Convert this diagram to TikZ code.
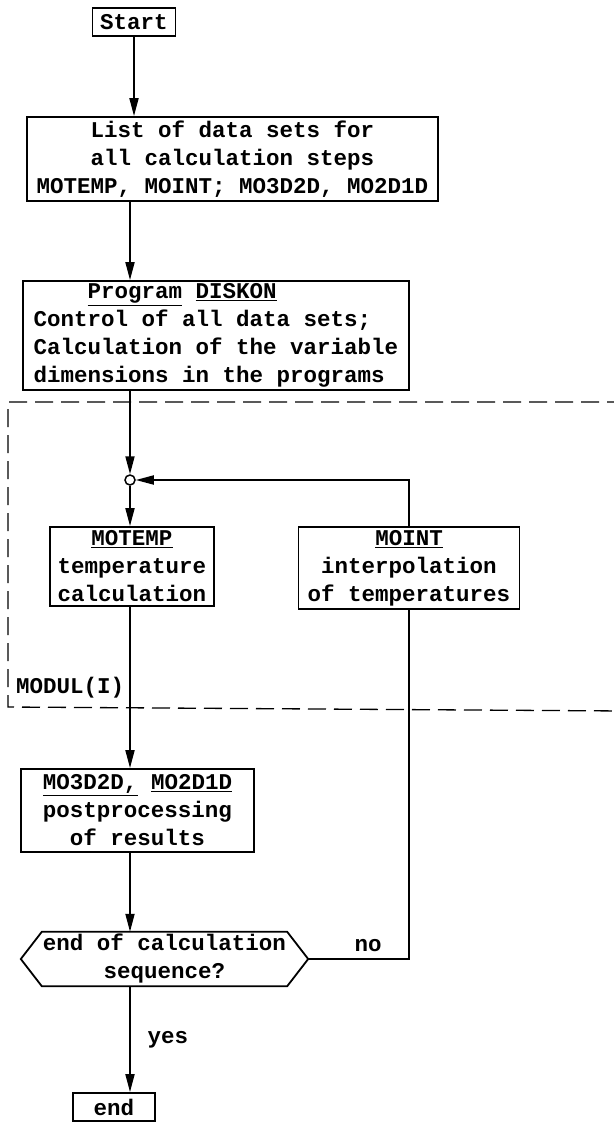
\documentclass[tikz,border=0pt]{standalone}
\usepackage{fontspec}
\newfontfamily\tw{Liberation Mono}[WordSpace={1,0,0}]
\usetikzlibrary{arrows.meta,calc}
\begin{document}
\begin{tikzpicture}[x=1pt,y=-1pt,
  box/.style={draw, line width=1.8pt, inner sep=0pt, align=center, font=\tw\bfseries\fontsize{22.5}{28}\selectfont},
  lbl/.style={font=\tw\bfseries\fontsize{22.5}{28}\selectfont, inner sep=0pt},
  arr/.style={line width=1.8pt, -{Triangle[length=18pt,width=9pt]}},
  ln/.style={line width=1.8pt}]
\useasboundingbox (0,0) rectangle (613,1123);
\fill[white] (0,0) rectangle (613,1123);

\node[box, minimum width=83pt, minimum height=28pt] (start) at (134,22) {Start};
\node[box, minimum width=411pt, minimum height=84pt] (list) at (232.5,159) {List of data sets for\\all calculation steps\\MOTEMP, MOINT; MO3D2D, MO2D1D};
\node[box, minimum width=386pt, minimum height=109pt, align=left] (prog) at (216,335.5) {\hspace*{54pt}\underline{Program} \underline{DISKON}\\Control of all data sets;\\Calculation of the variable\\dimensions in the programs};
\node[circle, draw, line width=1.5pt, fill=white, inner sep=0pt, minimum size=10pt] (j) at (130,480) {};
\node[box, minimum width=164pt, minimum height=79pt] (motemp) at (132,566.5) {\underline{MOTEMP}\\temperature\\calculation};
\node[box, minimum width=221pt, minimum height=82pt] (moint) at (409,568) {\underline{MOINT}\\interpolation\\of temperatures};
\node[box, minimum width=233pt, minimum height=83pt] (post) at (137.5,810.5) {\underline{MO3D2D,} \underline{MO2D1D}\\postprocessing\\of results};
\node[lbl, minimum width=245pt, minimum height=54pt, align=center] (dec) at (164.5,959) {end of calculation\\sequence?};
\draw[ln] (dec.north west) -- (dec.north east) -- ($(dec.east)+(21,0)$) -- (dec.south east) -- (dec.south west) -- ($(dec.west)+(-21,0)$) -- cycle;
\node[box, minimum width=82pt, minimum height=28pt] (end) at (114,1107) {end};

\draw[arr] (start.south) -- (start.south |- list.north);
\draw[arr] (list.south -| j) -- (j |- prog.north);
\draw[arr] (prog.south -| j) -- (j.north);
\draw[arr] (j.south) -- (j |- motemp.north);
\draw[arr] (motemp.south -| j) -- (j |- post.north);
\draw[arr] (post.south -| j) -- (j |- dec.north);
\draw[arr] (dec.south -| j) -- (j |- end.north);
\coordinate (dr) at ($(dec.east)+(21,0)$);
\draw[ln] (dr) -- (dr -| moint.south) -- (moint.south);
\draw[arr] (moint.north) -- (moint.north |- j) -- (j.east);

\node[lbl] (no) at (368,946) {no};
\node[lbl] (yes) at (168,1040) {yes};
\node[lbl, anchor=west] (modul) at (16,688) {MODUL(I)};
\draw[line width=1.3pt, dash pattern=on 18pt off 8pt] (625,402) -- (8,402) -- (8,707) -- (625,711);
\end{tikzpicture}
\end{document}
